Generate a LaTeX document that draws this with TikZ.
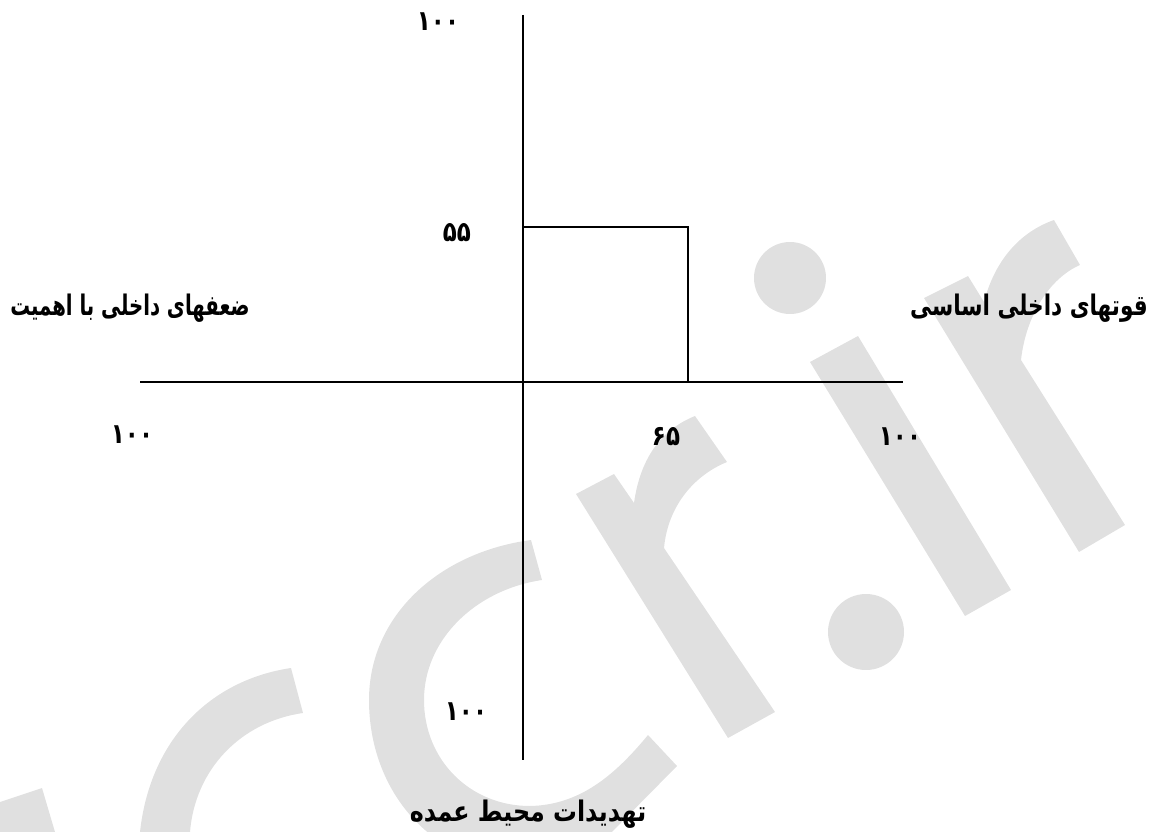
\documentclass[tikz,border=0pt]{standalone}
\usepackage{fontspec}
\usepackage{graphicx}
\TeXXeTstate=1
\newfontfamily\fa[Script=Arabic]{DejaVu Sans}
\definecolor{wm}{RGB}{224,224,224}
\tikzset{
  axis/.style={line width=1.7pt, black},
  lbl/.style={font=\fa\bfseries\fontsize{24}{28}\selectfont, inner sep=0pt},
  num/.style={font=\fa\bfseries\fontsize{25}{29}\selectfont, inner sep=0pt},
  wmark/.style={fill=wm, draw=none}
}
\newcommand{\numtxt}[1]{\scalebox{0.92}[1.12]{#1}}
\begin{document}
\begin{tikzpicture}[x=1pt,y=-1pt]
\useasboundingbox (0,0) rectangle (1156,832);
% watermark
\begin{scope}
\clip (0,0) rectangle (1156,832);
\fill[wmark] (531,540) .. controls (440,552) and (369,615) .. (369,700)
  .. controls (369,790) and (430,860) .. (510,865) -- (601,843) -- (677,766) -- (648,735)
  .. controls (615,775) and (580,805) .. (530,806)
  .. controls (470,806) and (424,760) .. (424,700)
  .. controls (424,640) and (475,590) .. (542,580) -- cycle;
\fill[wmark] (291,668) .. controls (210,680) and (150,740) .. (140,832) -- (140,845) -- (190,845) -- (190,832)
  .. controls (195,770) and (240,722) .. (303,713) -- cycle;
\fill[wmark] (0,802) -- (42,788) -- (55,832) -- (0,832) -- cycle;
\fill[wmark] (576,494) -- (614,474) -- (634,503) .. controls (640,460) and (660,430) .. (695,416)
  -- (727,462) .. controls (695,475) and (668,505) .. (664,548) -- (775,712) -- (728,738) -- cycle;
\fill[wmark] (924,298) -- (968,276) -- (984,302) .. controls (995,260) and (1020,232) .. (1054,220)
  -- (1080,265) .. controls (1050,278) and (1026,315) .. (1021,360) -- (1125,525) -- (1079,552) -- cycle;
\fill[wmark] (810,362) -- (858,336) -- (1011,590) -- (965,616) -- cycle;
\fill[wmark] (790,278) circle[radius=36pt];
\fill[wmark] (866,632) circle[radius=38pt];
\end{scope}
% axes
\coordinate (top) at (523,15);
\coordinate (bot) at (523,760);
\coordinate (lft) at (140,382);
\coordinate (rgt) at (903,382);
\coordinate (q55) at (523,227);
\coordinate (qc) at (688,227);
\coordinate (q65) at (688,382);
\draw[axis] (top) -- (bot);
\draw[axis] (lft) -- (rgt);
\draw[axis] (q55) -- (qc) -- (q65);
% labels
\node[num] (ntop) at (438,22) {\numtxt{۱۰۰}};
\node[num] (n55) at (457,233) {\numtxt{۵۵}};
\node[num] (nleft) at (132,435) {\numtxt{۱۰۰}};
\node[num] (n65) at (666,437) {\numtxt{۶۵}};
\node[num] (nright) at (900,437) {\numtxt{۱۰۰}};
\node[num] (nbot) at (466,712) {\numtxt{۱۰۰}};
\node[lbl] (weak) at (130,308) {\scalebox{0.82}[1.18]{\beginR ضعفهای داخلی با اهمیت\endR}};
\node[lbl] (strong) at (1029,308) {\scalebox{0.90}[1.18]{\beginR قوتهای داخلی اساسی\endR}};
\node[lbl] (threat) at (528,814) {\scalebox{0.99}[1.18]{\beginR تهدیدات محیط عمده\endR}};
\end{tikzpicture}
\end{document}
